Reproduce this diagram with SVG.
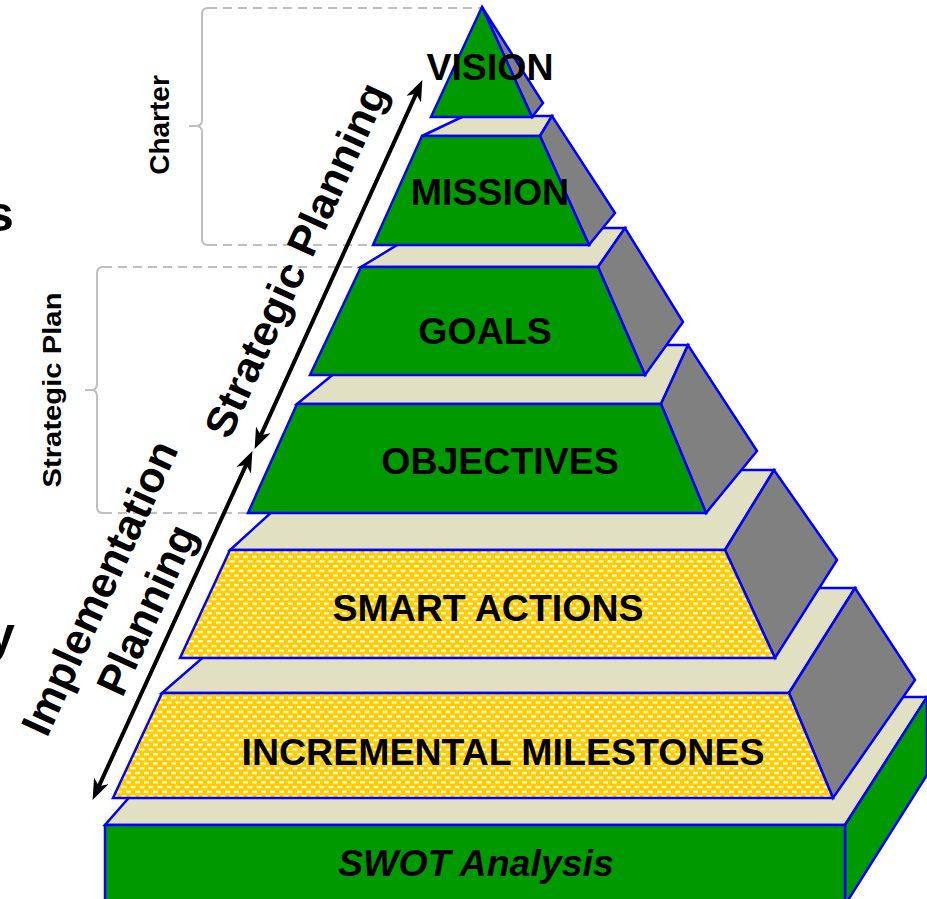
<svg xmlns="http://www.w3.org/2000/svg" width="927" height="899" viewBox="0 0 927 899">
<style>
.face{stroke:#0000FF;stroke-width:2.5;stroke-linejoin:miter}
.green{fill:#009900}
.gray{fill:#808080}
.beige{fill:#E2E0C2}
.yellow{fill:url(#dots)}
.lbl{font-family:"Liberation Sans",Arial,sans-serif;font-weight:bold;font-size:37.5px;fill:#000;text-anchor:middle}
.side{font-family:"Liberation Sans",Arial,sans-serif;font-weight:bold;fill:#000;text-anchor:middle}
.brace{fill:none;stroke:#BFBFBF;stroke-width:2}
.dash{fill:none;stroke:#BFBFBF;stroke-width:2;stroke-dasharray:9 6}
.arrow{fill:none;stroke:#000;stroke-width:4;marker-start:url(#head);marker-end:url(#head)}
</style>
<defs>
<pattern id="dots" patternUnits="userSpaceOnUse" width="9" height="9.4">
<rect width="9" height="9.4" fill="#FFCC00"/>
<rect x="0" y="1.2" width="5" height="2" fill="#FFFFFF"/>
<rect x="4.5" y="5.9" width="5" height="2" fill="#FFFFFF"/>
<rect x="-4.5" y="5.9" width="5" height="2" fill="#FFFFFF"/>
</pattern>
<marker id="head" markerUnits="userSpaceOnUse" viewBox="0 0 22 16" markerWidth="22" markerHeight="16" refX="8" refY="8" orient="auto-start-reverse">
<path d="M0,0 L21,8 L0,16 L6,8 z" fill="#000"/>
</marker>
</defs>

<g id="braces">
<path class="dash" d="M208,8 H482"/>
<path class="dash" d="M208,245 H375"/>
<path class="brace" d="M208,8 Q202,8 202,14 V120 Q202,126 196,126 H189 M196,126 Q202,126 202,132 V239 Q202,245 208,245"/>
<path class="dash" d="M103,267 H361"/>
<path class="dash" d="M103,513 H250"/>
<path class="brace" d="M103,267 Q97,267 97,273 V384 Q97,390 91,390 H85 M91,390 Q97,390 97,396 V507 Q97,513 103,513"/>
</g>

<g id="swot">
<polygon class="face beige" points="105,825 845,825 927,697 217,697"/>
<polygon class="face green" points="845,825 927,697 927,775 845,905"/>
<rect class="face green" x="105" y="825" width="740" height="82"/>
<text class="lbl" x="476" y="876" font-style="italic">SWOT Analysis</text>
</g>

<g id="milestones">
<polygon class="face beige" points="162,693 789,693 855,588 283,588"/>
<polygon class="face gray" points="789,693 855,588 915,680 833,798"/>
<polygon class="face yellow" points="162,693 789,693 833,798 113,798"/>
<text class="lbl" x="503" y="765">INCREMENTAL MILESTONES</text>
</g>

<g id="smart">
<polygon class="face beige" points="230,550 725,550 774,470 318,470"/>
<polygon class="face gray" points="725,550 774,470 837,560 775,658"/>
<polygon class="face yellow" points="230,550 725,550 775,658 180,658"/>
<text class="lbl" x="488" y="621">SMART ACTIONS</text>
</g>

<g id="objectives">
<polygon class="face beige" points="297,404 661,404 688,345 369,345"/>
<polygon class="face gray" points="661,404 688,345 757,451 706,513"/>
<polygon class="face green" points="297,404 661,404 706,513 248,513"/>
<text class="lbl" x="500" y="474">OBJECTIVES</text>
</g>

<g id="goals">
<polygon class="face beige" points="361,267 598,267 625,228 425,228"/>
<polygon class="face gray" points="598,267 625,228 683,322 645,375"/>
<polygon class="face green" points="361,267 598,267 645,375 310,375"/>
<text class="lbl" x="485" y="344">GOALS</text>
</g>

<g id="mission">
<polygon class="face beige" points="422,136 540,136 552,116 464,116"/>
<polygon class="face gray" points="540,136 552,116 615,213 589,245"/>
<polygon class="face green" points="422,136 540,136 589,245 373,245"/>
<text class="lbl" x="490" y="205">MISSION</text>
</g>

<g id="vision">
<polygon class="face gray" points="482,7 543,103 532,117"/>
<polygon class="face green" points="482,7 532,117 431,117"/>
<text class="lbl" x="490" y="80">VISION</text>
</g>

<g id="connectors">
<line class="arrow" x1="260" y1="437.1" x2="417" y2="91.9"/>
<line class="arrow" x1="247" y1="462.9" x2="98" y2="788.1"/>
</g>

<g id="labels">
<text class="side" font-size="28" transform="translate(169,125) rotate(-90)">Charter</text>
<text class="side" font-size="26" textLength="195" lengthAdjust="spacingAndGlyphs" transform="translate(61,390) rotate(-90)">Strategic Plan</text>
<text class="side" font-size="42" textLength="384" lengthAdjust="spacingAndGlyphs" transform="translate(309,266) rotate(-65.5)">Strategic Planning</text>
<text class="side" font-size="43" transform="translate(113,594) rotate(-65.5)">Implementation</text>
<text class="side" font-size="43" transform="translate(160,616) rotate(-65.5)">Planning</text>
<text class="side" font-size="50" x="-11" y="231" text-anchor="start" dx="11">s</text>
<text class="side" font-size="50" x="-10" y="652" text-anchor="start" dx="11">y</text>
</g>
</svg>
